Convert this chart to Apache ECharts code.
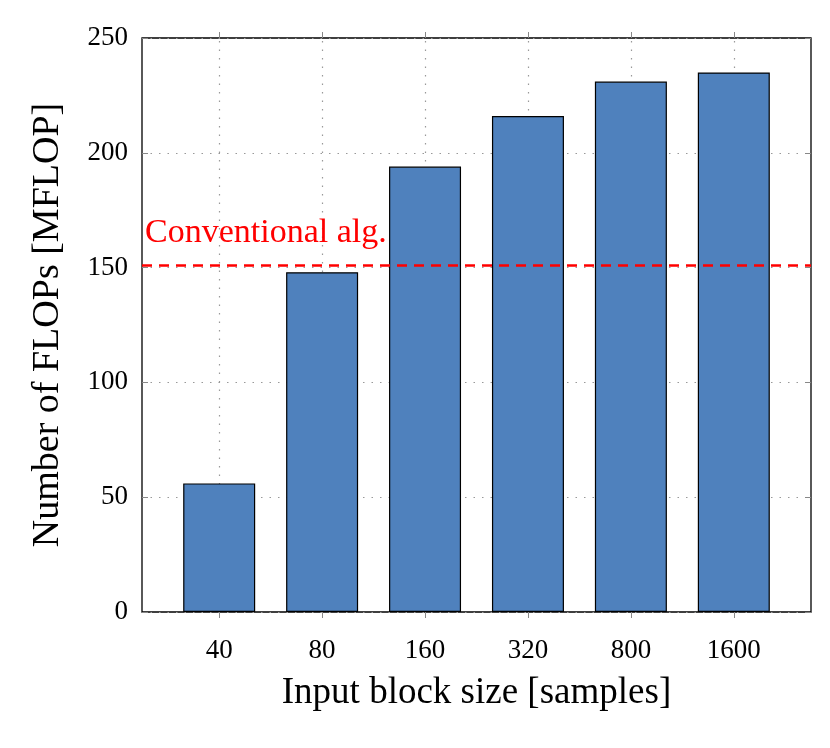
<!DOCTYPE html>
<html>
<head>
<meta charset="utf-8">
<script src="https://cdn.jsdelivr.net/npm/echarts@6/dist/echarts.min.js"></script>
<style>html,body{margin:0;padding:0;background:#fff}#c{width:830px;height:748px}</style>
</head>
<body>
<div id="c"></div>
<script>
const categories = ['40', '80', '160', '320', '800', '1600'];
const flops = [56, 148, 194, 216, 231, 235];
const conventional = 151;
const yTicks = [0, 50, 100, 150, 200, 250];
const conventionalLabel = 'Conventional alg.';
const xTitle = 'Input block size [samples]';
const yTitle = 'Number of FLOPs [MFLOP]';

const FONT = 'Liberation Serif';
const idx = categories.map((c, i) => i);
const chart = echarts.init(document.getElementById('c'));
const xBase = {
  type: 'value', min: -0.75, max: 5.75, gridIndex: 0,
  splitLine: { show: false },
  axisLine: { show: false, onZero: false },
  minorTick: { show: false }
};
chart.setOption({
  animation: false,
  grid: { left: 142, top: 38, width: 669, height: 574, show: true, borderColor: '#000', borderWidth: 1.3, backgroundColor: 'transparent' },
  xAxis: [
    Object.assign({}, xBase, {
      position: 'bottom',
      axisTick: { show: true, customValues: idx, length: 6, inside: false, lineStyle: { color: '#888', width: 1 } },
      axisLabel: { customValues: idx, formatter: v => categories[Math.round(v)], fontFamily: FONT, fontSize: 27, color: '#000', margin: 25 },
      name: xTitle, nameLocation: 'middle', nameGap: 63,
      nameTextStyle: { fontFamily: FONT, fontSize: 37, color: '#000' }
    }),
    Object.assign({}, xBase, {
      position: 'top',
      axisTick: { show: true, customValues: idx, length: 6, inside: false, lineStyle: { color: '#888', width: 1 } },
      axisLabel: { show: false }
    })
  ],
  yAxis: [
    {
      type: 'value', min: 0, max: 250, interval: 50, position: 'left',
      axisLine: { show: false, onZero: false },
      axisTick: { show: true, inside: true, length: 6, lineStyle: { color: '#888' } },
      axisLabel: { fontFamily: FONT, fontSize: 27, color: '#000', margin: 14, formatter: v => yTicks.includes(v) ? String(v) : '' },
      splitLine: { show: true, lineStyle: { color: '#999', type: [1.5, 7], width: 1.2 } },
      name: yTitle, nameLocation: 'middle', nameGap: 75,
      nameTextStyle: { fontFamily: FONT, fontSize: 38, color: '#000' }
    },
    {
      type: 'value', min: 0, max: 250, interval: 50, position: 'right',
      axisLine: { show: false, onZero: false },
      axisTick: { show: true, inside: true, length: 6, lineStyle: { color: '#888' } },
      axisLabel: { show: false },
      splitLine: { show: false }
    }
  ],
  series: [
    {
      type: 'line', data: [], xAxisIndex: 0, yAxisIndex: 0, z: 0, silent: true,
      markLine: {
        z: 0, symbol: 'none', silent: true, animation: false,
        label: { show: false },
        lineStyle: { color: '#999', type: [1.5, 7], width: 1.2 },
        data: idx.map(i => ({ xAxis: i }))
      }
    },
    {
      type: 'bar', xAxisIndex: 0, yAxisIndex: 0, z: 2,
      barWidth: 72,
      data: flops.map((v, i) => [i, v]),
      itemStyle: { color: '#4f81bd', borderColor: '#000', borderWidth: 1.2 }
    },
    {
      type: 'line', data: [], xAxisIndex: 0, yAxisIndex: 0, z: 5, silent: true,
      markLine: {
        z: 5, symbol: 'none', silent: true, animation: false,
        lineStyle: { color: '#ff0000', type: [10, 7], width: 2.6 },
        label: { show: true, position: 'insideStartTop', formatter: conventionalLabel, color: '#ff0000', fontFamily: FONT, fontSize: 34, distance: [3, 15] },
        data: [{ yAxis: conventional }]
      }
    }
  ]
});
</script>
</body>
</html>
